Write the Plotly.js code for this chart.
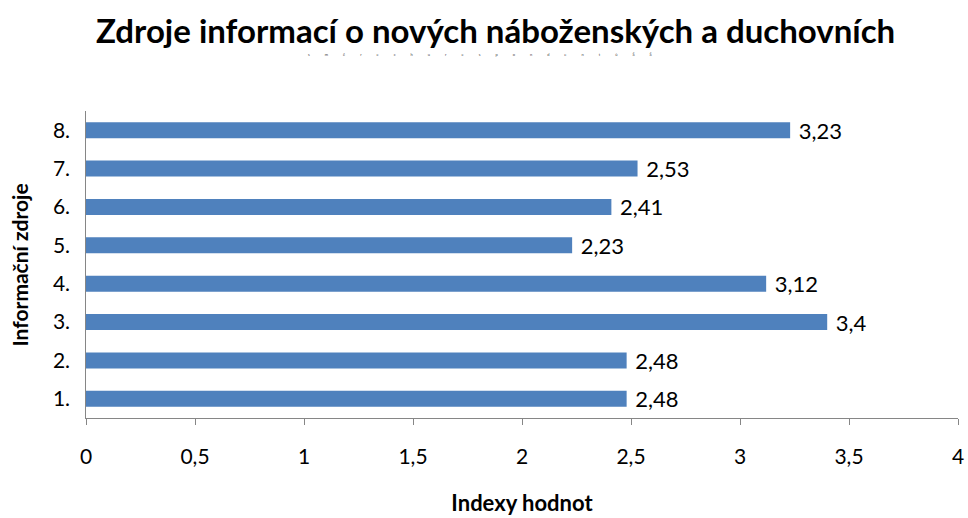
<!DOCTYPE html>
<html><head><meta charset="utf-8">
<script src="https://cdn.plot.ly/plotly-3.0.1.min.js"></script>
<style>html,body{margin:0;padding:0;background:#fff}</style>
</head><body>
<div id="chart" style="width:968px;height:518px"></div>
<script>
var categories = ["1.", "2.", "3.", "4.", "5.", "6.", "7.", "8."];
var values = [2.48, 2.48, 3.4, 3.12, 2.23, 2.41, 2.53, 3.23];
var xTicks = [0, 0.5, 1, 1.5, 2, 2.5, 3, 3.5, 4];
var subtitleChars = ["s", "m", "ě", "r", "e", "c", "h", "u", "r", "e", "s", "p", "o", "n", "d", "e", "n", "t", "ů", "Š", "Š"];

var fontFam = "Lato, 'Open Sans', sans-serif";
var trace = {
  type: "bar", orientation: "h",
  x: values, y: categories,
  marker: {color: "#4F81BD"},
  width: 0.42,
  texttemplate: " %{x}", textposition: "outside", constraintext: "none",
  textfont: {size: 22, color: "#000", family: fontFam},
  cliponaxis: false, hoverinfo: "none"
};
var gap = "\u2003\u2003\u2003\u2003\u2003";
var layout = {
  width: 968, height: 518,
  separators: ", ",
  margin: {l: 86, r: 10, t: 111, b: 100},
  paper_bgcolor: "#fff", plot_bgcolor: "#fff",
  showlegend: false,
  title: {text: "<b>Zdroje informací o nových náboženských a duchovních</b>",
          font: {size: 33, family: fontFam, color: "#000"},
          x: 0.512, xanchor: "center", y: 0.94, yanchor: "middle"},
  xaxis: {range: [0, 4], tickvals: xTicks, ticks: "outside", ticklen: 6,
          tickcolor: "#868686", showline: true, linecolor: "#868686", linewidth: 1,
          showgrid: false, zeroline: false, ticklabelstandoff: 14,
          tickfont: {size: 21, family: fontFam, color: "#000"},
          title: {text: "<b>Indexy hodnot</b>", font: {size: 22, family: fontFam, color: "#000"}, standoff: 28}},
  yaxis: {type: "category", categoryarray: categories, range: [-0.5, 7.5],
          showline: true, linecolor: "#868686", linewidth: 1, ticks: "",
          showgrid: false, zeroline: false, ticksuffix: "  ",
          tickfont: {size: 21, family: fontFam, color: "#000"}},
  annotations: [{
    xref: "paper", yref: "paper", x: 0.452, y: 1.185, xanchor: "center", yanchor: "middle",
    showarrow: false,
    text: subtitleChars.join(gap),
    font: {size: 4, family: fontFam, color: "#444"}
  }, {
    xref: "paper", yref: "paper", x: -0.0757, y: 0.5, xanchor: "center", yanchor: "middle",
    showarrow: false, textangle: -90,
    text: "<b>Informační zdroje</b>",
    font: {size: 21, family: fontFam, color: "#000"}
  }]
};
Plotly.newPlot("chart", [trace], layout, {staticPlot: true});
</script>
</body></html>
